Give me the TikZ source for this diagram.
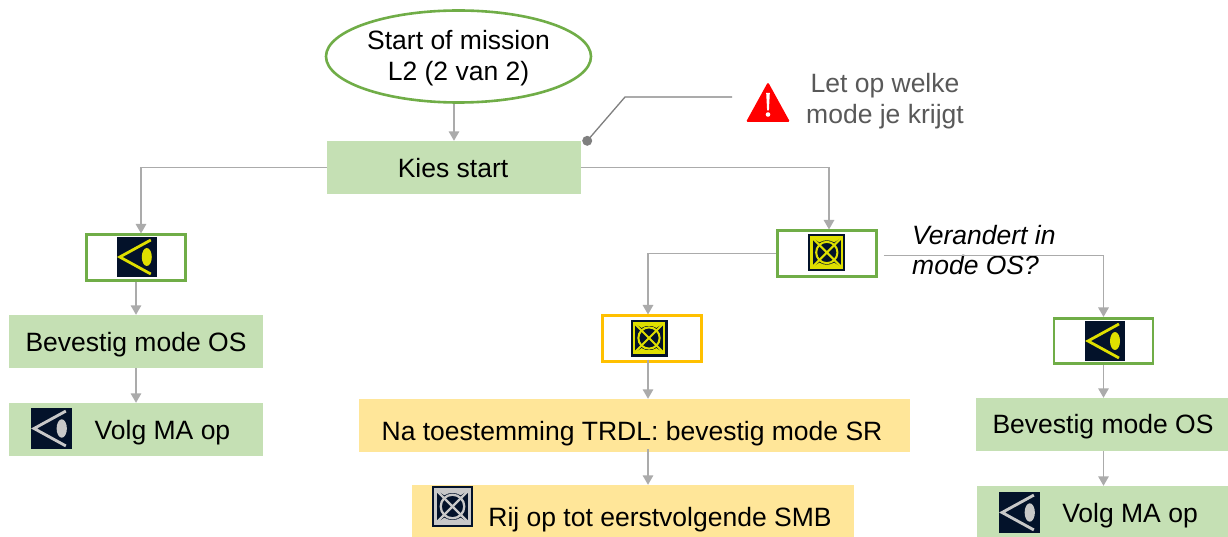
\documentclass[tikz,border=0pt]{standalone}
\usepackage{fontspec}
\setmainfont{Liberation Sans}
\usetikzlibrary{arrows.meta,shapes.geometric}
\definecolor{gband}{HTML}{C5E0B4}
\definecolor{yband}{HTML}{FFE699}
\definecolor{gedge}{HTML}{70AD47}
\definecolor{yedge}{HTML}{FFC000}
\definecolor{conn}{HTML}{ABABAB}
\definecolor{call}{HTML}{7F7F7F}
\definecolor{navy}{HTML}{03122A}
\definecolor{ylw}{HTML}{DFDF00}
\definecolor{lgrey}{HTML}{C8C8C8}
\tikzset{
  band/.style={fill=#1,draw=none,inner sep=0pt},
  framed/.style={draw=#1,line width=2.6pt,fill=white,inner sep=0pt,minimum width=99pt,minimum height=45.5pt},
  lbl/.style={font=\fontsize{26.5}{31}\selectfont,text=black,anchor=base,inner sep=0pt},
  flow/.style={draw=conn,line width=1.5pt,-{Triangle[length=9.5pt,width=10.5pt]}},
}
% eye icon: centre x,y; size; colour
\newcommand{\eyeicon}[4]{%
  \begin{scope}[shift={(#1,#2)},scale=#3/40]
    \fill[navy] (-20,-20) rectangle (20,20);
    \draw[#4,line width=#3/40*2.8pt] (14,-17) -- (-17,0) -- (14,17);
    \fill[#4] (10,0) ellipse (5 and 9);
  \end{scope}}
% search/cross icon
\newcommand{\sricon}[4]{%
  \begin{scope}[shift={(#1,#2)},scale=#3/40]
    \fill[navy] (-20,-20) rectangle (20,20);
    \draw[#4,line width=#3/40*2.6pt] (-16.5,-16.5) rectangle (16.5,16.5);
    \draw[#4,line width=#3/40*2.2pt] (-16.5,-16.5) -- (16.5,16.5) (-16.5,16.5) -- (16.5,-16.5);
    \draw[#4,line width=#3/40*2.2pt] (0,0) circle (11.5);
    \fill[#4] (-16.5,-16.5) -- (16.5,-16.5) -- (8,-11) .. controls (3,-14) and (-3,-14) .. (-8,-11) -- cycle;
    \fill[#4] (-16.5,16.5) -- (16.5,16.5) -- (8,11) .. controls (3,14) and (-3,14) .. (-8,11) -- cycle;
  \end{scope}}
\begin{document}
\begin{tikzpicture}[x=1pt,y=-1pt]
\useasboundingbox (0,0) rectangle (1228,537);
\fill[white] (0,0) rectangle (1228,537);
% nodes
\node[ellipse,draw=gedge,line width=2.6pt,fill=white,minimum width=265pt,minimum height=92pt,inner sep=0pt] (start) at (458.5,56.5) {};
\node[lbl] (startt) at (458.5,50) {Start of mission};
\node[lbl] (startu) at (458.5,81) {L2 (2 van 2)};
\node[band=gband,minimum width=254pt,minimum height=53pt] (kies) at (454,167.5) {};
\node[lbl] (kiest) at (453,178) {Kies start};
\node[framed=gedge] (eye1) at (136,257.5) {};
\node[band=gband,minimum width=254pt,minimum height=53pt] (bev1) at (136,341.5) {};
\node[lbl] (bev1t) at (136,351) {Bevestig mode OS};
\node[band=gband,minimum width=254pt,minimum height=53pt] (volg1) at (136,429.5) {};
\node[lbl] (volg1t) at (162.5,439) {Volg MA op};
\node[framed=gedge] (sr1) at (827,253.5) {};
\node[framed=yedge] (sr2) at (652,338.5) {};
\node[framed=gedge] (eye2) at (1103.5,341) {};
\node[band=yband,minimum width=551pt,minimum height=53pt] (na) at (634.5,425.5) {};
\node[lbl] (nat) at (632,440) {Na toestemming TRDL: bevestig mode SR};
\node[band=yband,minimum width=442pt,minimum height=52pt] (rij) at (633,511) {};
\node[lbl] (rijt) at (660,526) {Rij op tot eerstvolgende SMB};
\node[band=gband,minimum width=252pt,minimum height=53pt] (bev2) at (1102,424.5) {};
\node[lbl] (bev2t) at (1103,433) {Bevestig mode OS};
\node[band=gband,minimum width=251pt,minimum height=51pt] (volg2) at (1102.5,511.5) {};
\node[lbl] (volg2t) at (1130,522) {Volg MA op};
\node[lbl,text=black!65] (let) at (885,93) {Let op welke};
\node[lbl,text=black!65] (modej) at (885,124) {mode je krijgt};
\node[lbl,anchor=base west] (ver) at (912,244) {\itshape Verandert in};
\node[lbl,anchor=base west] (modeos) at (912,274) {\itshape mode OS?};
% icons
\eyeicon{136.8}{257}{40}{ylw}
\eyeicon{1105}{341}{40}{ylw}
\eyeicon{51.5}{428.5}{41}{lgrey}
\eyeicon{1019.5}{512.5}{41}{lgrey}
\sricon{826.8}{252.5}{37}{ylw}
\sricon{649}{338}{37}{ylw}
\sricon{452.5}{506.5}{41}{lgrey}
% connectors
\draw[flow] ([xshift=-4.5pt]start.south) -- ([xshift=0pt]kies.north);
\draw[flow] (kies.west) -| ([xshift=5pt]eye1.north);
\draw[flow] (kies.east) -| ([xshift=2pt]sr1.north);
\draw[flow] (eye1.south) -- (bev1.north);
\draw[flow] (bev1.south) -- (volg1.north);
\draw[flow] (sr1.west) -| ([xshift=-4pt]sr2.north);
\draw[flow] ([xshift=6pt,yshift=-2pt]sr1.east) -| (eye2.north);
\draw[flow] ([xshift=-4pt,yshift=3pt]sr2.south) -- ([xshift=-4pt,yshift=0pt]sr2.south |- na.north);
\draw[flow] ([xshift=13.5pt,yshift=3pt]na.south) -- ([xshift=13.5pt]na.south |- rij.north);
\draw[flow] (eye2.south) -- ([xshift=1.5pt]bev2.north);
\draw[flow] ([xshift=1.5pt]bev2.south) -- ([xshift=1pt]volg2.north);
% callout
\coordinate (dot) at (kies.north east);
\coordinate (el) at (625,97);
\coordinate (er) at (732,97);
\draw[call,line width=1.3pt] ([xshift=6pt]dot) -- (el) -- (er);
\fill[call] ([xshift=6pt]dot) circle (5pt);
% warning
\fill[red,rounded corners=1.5pt] (746,122) -- (768,82) -- (790,122) -- cycle;
\fill[white] (766.2,93) -- (769.8,93) -- (768.9,110.5) -- (767.1,110.5) -- cycle;
\fill[white] (768,114.5) circle (2.3pt);
\end{tikzpicture}
\end{document}
